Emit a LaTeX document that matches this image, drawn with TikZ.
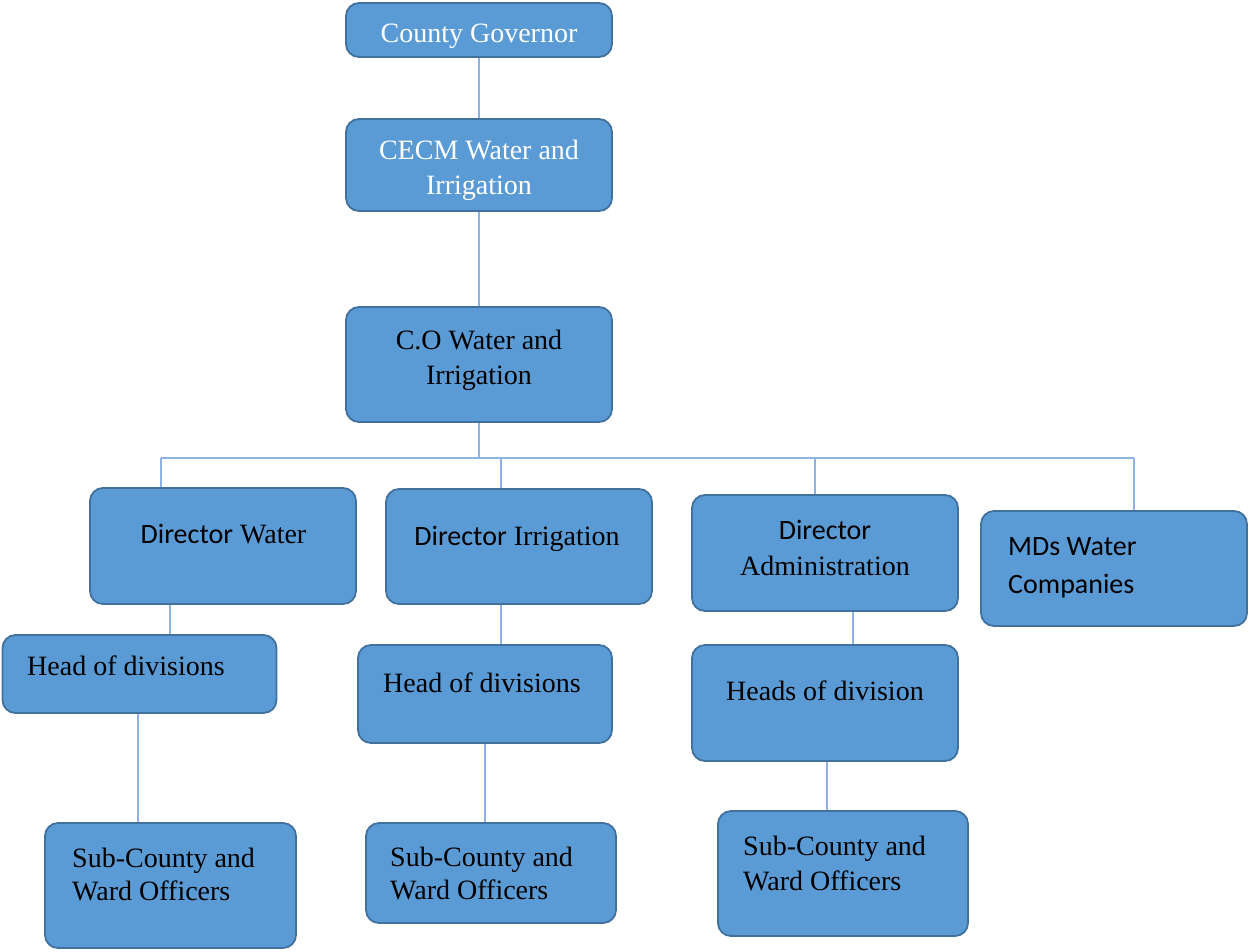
\documentclass[tikz,border=0pt]{standalone}
\usepackage{fontspec}
\setmainfont{Liberation Serif}
\newfontfamily\calfont{Carlito}
\definecolor{boxfill}{HTML}{5B9BD5}
\definecolor{boxline}{HTML}{41719C}
\definecolor{linkblue}{HTML}{8DB3E2}
\begin{document}
\begin{tikzpicture}[x=1pt,y=-1pt,
  box/.style={draw=boxline, fill=boxfill, rounded corners=13pt, line width=1.8pt, inner sep=0pt},
  link/.style={draw=linkblue, line width=1.5pt},
  txt/.style={inner sep=0pt, font=\fontsize{28}{35}\selectfont, text=black},
  wtxt/.style={txt, text=white}]
\useasboundingbox (0,0) rectangle (1250,951);
% links first (behind boxes)
\node[box, minimum width=266, minimum height=54] (gov) at (479,30) {};
\node[box, minimum width=266, minimum height=92] (cecm) at (479,165) {};
\node[box, minimum width=266, minimum height=115] (co) at (479,364.5) {};
\node[box, minimum width=266, minimum height=116] (dw) at (223,546) {};
\node[box, minimum width=266, minimum height=115] (di) at (519,546.5) {};
\node[box, minimum width=266, minimum height=116] (da) at (825,553) {};
\node[box, minimum width=266, minimum height=115] (md) at (1114,568.5) {};
\node[box, minimum width=274, minimum height=78] (h1) at (139.5,674) {};
\node[box, minimum width=254, minimum height=98] (h2) at (485,694) {};
\node[box, minimum width=266, minimum height=116] (h3) at (825,703) {};
\node[box, minimum width=251, minimum height=125] (s1) at (170.5,885.5) {};
\node[box, minimum width=250, minimum height=100] (s2) at (491,873) {};
\node[box, minimum width=250, minimum height=125] (s3) at (843,873.5) {};
% connectors
\coordinate (busL) at (161,458);
\coordinate (busR) at (1134,458);
\coordinate (busI) at (501,458);
\coordinate (busA) at (815,458);
\draw[link] (gov.south) -- (cecm.north);
\draw[link] (cecm.south) -- (co.south |- co.north);
\draw[link] (co.south) -- (co.south |- busL);
\draw[link] (busL) -- (busR);
\draw[link] (busL) -- (busL |- dw.north);
\draw[link] (busI) -- (busI |- di.north);
\draw[link] (busA) -- (busA |- da.north);
\draw[link] (busR) -- (busR |- md.north);
\draw[link] (dw.south -| 170,0) -- (h1.north -| 170,0);
\draw[link] (di.south -| 501,0) -- (h2.north -| 501,0);
\draw[link] (da.south -| 853,0) -- (h3.north -| 853,0);
\draw[link] (h1.south -| 138,0) -- (s1.north -| 138,0);
\draw[link] (h2.south -| 485,0) -- (s2.north -| 485,0);
\draw[link] (h3.south -| 827,0) -- (s3.north -| 827,0);
% texts
\node[wtxt, anchor=base] (govt) at (479,42) {County Governor};
\node[wtxt, anchor=base] (cecmt1) at (479,159) {CECM Water and};
\node[wtxt, anchor=base] (cecmt2) at (479,194) {Irrigation};
\node[txt, anchor=base] (cot1) at (479,349) {C.O Water and};
\node[txt, anchor=base] (cot2) at (479,384) {Irrigation};
\node[txt, anchor=base] (dwt) at (223.5,543) {{\calfont Director} Water};
\node[txt, anchor=base] (dit) at (517,545) {{\calfont Director} Irrigation};
\node[txt, anchor=base] (dat1) at (825,539) {\calfont Director};
\node[txt, anchor=base] (dat2) at (825,575) {Administration};
\node[txt, anchor=base west, font=\calfont\fontsize{28}{35}\selectfont] (mdt1) at (1008,555) {MDs Water};
\node[txt, anchor=base west, font=\calfont\fontsize{28}{35}\selectfont] (mdt2) at (1008,593) {Companies};
\node[txt, anchor=base west] (h1t) at (27,675) {Head of divisions};
\node[txt, anchor=base west] (h2t) at (383,692) {Head of divisions};
\node[txt, anchor=base] (h3t) at (825,700) {Heads of division};
\node[txt, anchor=base west] (s1t1) at (72,867) {Sub-County and};
\node[txt, anchor=base west] (s1t2) at (72,900) {Ward Officers};
\node[txt, anchor=base west] (s2t1) at (390,866) {Sub-County and};
\node[txt, anchor=base west] (s2t2) at (390,899) {Ward Officers};
\node[txt, anchor=base west] (s3t1) at (743,855) {Sub-County and};
\node[txt, anchor=base west] (s3t2) at (743,890) {Ward Officers};
\end{tikzpicture}
\end{document}
